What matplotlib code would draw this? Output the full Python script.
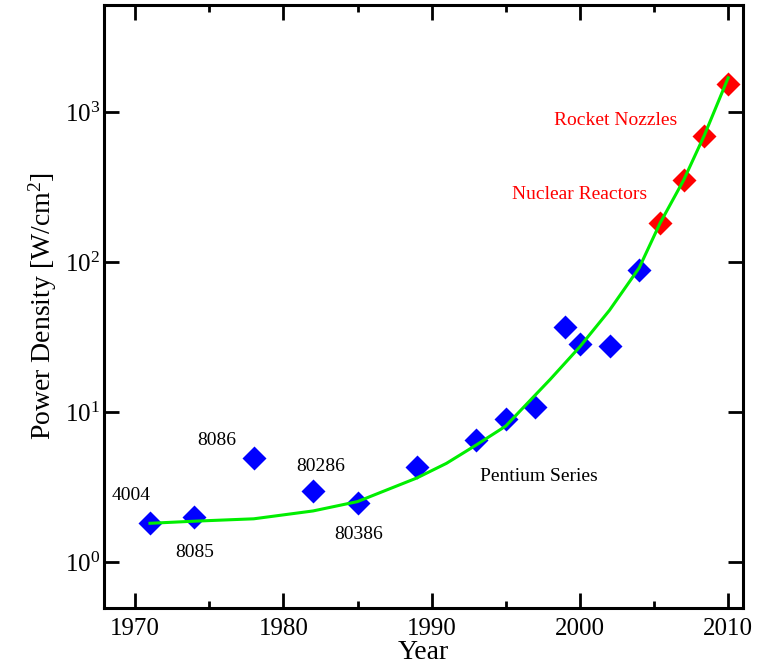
import matplotlib
matplotlib.use('Agg')
import matplotlib.pyplot as plt
from matplotlib.ticker import LogLocator, MultipleLocator, NullLocator

plt.rcParams['font.family'] = ['Liberation Serif', 'DejaVu Serif']
plt.rcParams['mathtext.fontset'] = 'custom'
plt.rcParams['mathtext.rm'] = 'Liberation Serif'
plt.rcParams['mathtext.it'] = 'Liberation Serif:italic'

# chip data (blue) and the higher points (red)
chip_years = [1971, 1974, 1978, 1982, 1985, 1989, 1993, 1995, 1997, 1999, 2000, 2002, 2004]
chip_power = [1.84, 2.0, 4.98, 3.0, 2.5, 4.3, 6.5, 9.0, 10.8, 37, 28.5, 27.7, 89]
hot_years = [2005.4, 2007, 2008.4, 2010]
hot_power = [182, 354, 700, 1540]

# trend line
trend_years = [1971, 1974, 1978, 1982, 1985, 1989, 1991, 1993, 1995, 1996, 1998, 2000, 2002, 2004, 2005.4, 2007, 2008.4, 2010]
trend_power = [1.82, 1.88, 1.95, 2.2, 2.54, 3.65, 4.57, 6.05, 8.1, 10.3, 16.6, 27.4, 48, 92, 182, 354, 706, 1700]

chip_names = ['4004', '8085', '8086', '80286', '80386']
name_pos = [(1968.43, 2.81, 'left'), (1974.05, 1.17, 'center'), (1975.5, 6.47, 'center'),
            (1982.54, 4.32, 'center'), (1985.1, 1.54, 'center')]

fig = plt.figure(figsize=(7.67, 6.67), dpi=100)
ax = fig.add_axes([0.1356, 0.0885, 0.8331, 0.904])

ax.plot(trend_years, trend_power, color='#00ee00', lw=2.2, zorder=3)
ax.plot(chip_years, chip_power, 'D', color='#0000ff', ms=11.8, mec='none', zorder=2)
ax.plot(hot_years, hot_power, 'D', color='#ff0000', ms=11.8, mec='none', zorder=2)

ax.set_yscale('log')
ax.set_xlim(1967.9, 2011.0)
ax.set_ylim(0.496, 5200)
ax.xaxis.set_major_locator(MultipleLocator(10))
ax.xaxis.set_minor_locator(MultipleLocator(5))
ax.yaxis.set_major_locator(LogLocator(base=10, numticks=10))
ax.yaxis.set_minor_locator(NullLocator())

for s in ax.spines.values():
    s.set_linewidth(2.2)
ax.tick_params(which='both', direction='in', top=True, right=True, width=2.0)
ax.tick_params(which='major', length=11, labelsize=18)
ax.tick_params(which='minor', length=5)
ax.tick_params(axis='x', pad=7)
ax.tick_params(axis='y', pad=3)

for name, (x, y, ha) in zip(chip_names, name_pos):
    ax.text(x, y, name, fontsize=14, ha=ha, va='center')
ax.text(1993.26, 3.72, 'Pentium Series', fontsize=14, ha='left', va='center')
ax.text(1998.25, 889, 'Rocket Nozzles', fontsize=14, ha='left', va='center', color='#ff0000')
ax.text(1995.4, 285, 'Nuclear Reactors', fontsize=14, ha='left', va='center', color='#ff0000')

ax.set_xlabel('Year', fontsize=20, labelpad=0)
ax.set_ylabel('Power Density [W/cm$^2$]', fontsize=20, labelpad=4)

fig.savefig('out.png', dpi=100)
